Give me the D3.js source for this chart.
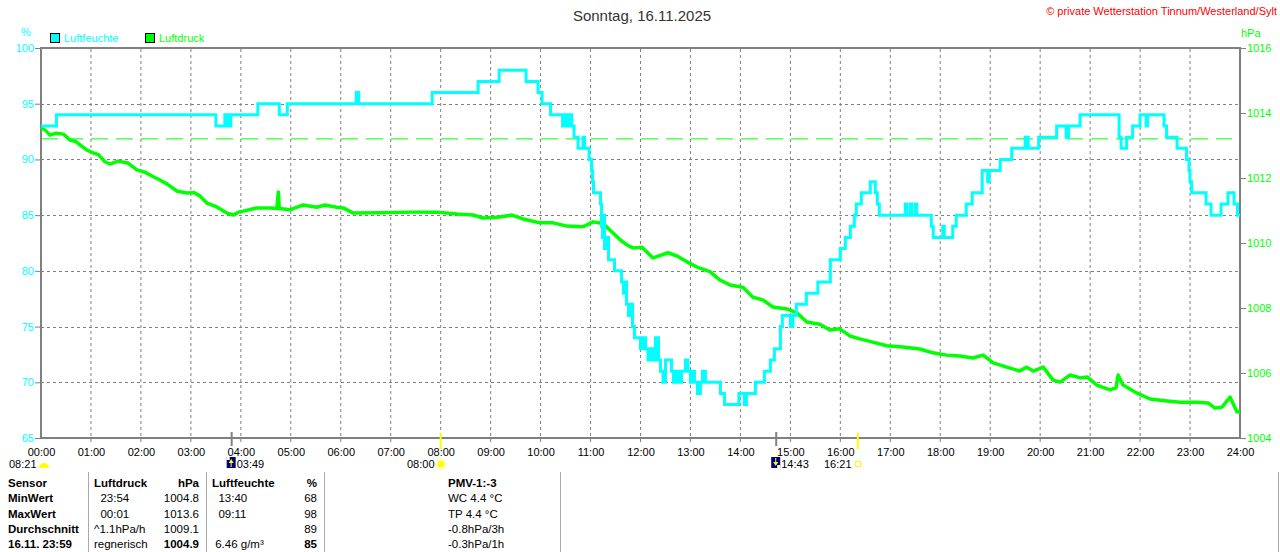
<!DOCTYPE html>
<html>
<head>
<meta charset="utf-8">
<script src="https://cdn.jsdelivr.net/npm/d3@7"></script>
<style>
  body { margin: 0; background: #fff; }
  svg { display: block; font-family: "Liberation Sans", Arial, sans-serif; }
</style>
</head>
<body>
<div id="chart"></div>
<script>
// Luftfeuchte (%) - Stufenwerte, Zeit in Stunden
const humTimes = [0, 0.31, 3.5, 3.68, 3.74, 3.8, 4.34, 4.77, 4.93, 6.31, 6.36, 7.83, 8.75, 9.17, 9.71, 9.95, 10.03, 10.2,
  10.44, 10.48, 10.52, 10.56, 10.62, 10.67, 10.75, 10.85, 10.88, 10.97, 11.02, 11.04, 11.06, 11.2, 11.22, 11.24, 11.26, 11.28,
  11.32, 11.36, 11.48, 11.62, 11.66, 11.68, 11.72, 11.76, 11.8, 11.84, 11.88, 12.0, 12.05, 12.1, 12.15, 12.2, 12.24, 12.3,
  12.36, 12.4, 12.45, 12.5, 12.62, 12.66, 12.72, 12.76, 12.82, 12.9, 12.95, 13.0, 13.04, 13.08, 13.14, 13.2, 13.24, 13.3,
  13.6, 13.68, 13.97, 14.08, 14.12, 14.3, 14.48, 14.6, 14.68, 14.8, 14.84, 15.0, 15.05, 15.12, 15.32, 15.55, 15.8, 16.0,
  16.1, 16.2, 16.28, 16.32, 16.42, 16.6, 16.7, 16.74, 16.78, 17.3, 17.33, 17.4, 17.43, 17.5, 17.53, 17.82, 17.86, 18.05,
  18.08, 18.25, 18.32, 18.52, 18.64, 18.84, 18.95, 18.98, 19.2, 19.43, 19.7, 19.76, 19.97, 20.33, 20.52, 20.57, 20.8,
  21.58, 21.62, 21.73, 21.85, 22.0, 22.12, 22.15, 22.48, 22.53, 22.74, 22.93, 22.98, 23.0, 23.03, 23.32, 23.42, 23.62,
  23.76, 23.88, 23.95, 24];
const humValues = [93, 94, 93, 94, 93, 94, 95, 94, 95, 96, 95, 96, 97, 98, 97, 96, 95, 94,
  93, 94, 93, 94, 93, 92, 91, 92, 91, 90, 89, 88, 87, 86, 84, 83, 85, 82,
  83, 81, 80, 79, 78, 79, 77, 76, 77, 75, 74, 73, 74, 73, 72, 73, 72, 74,
  72, 71, 70, 72, 71, 70, 71, 70, 71, 72, 71, 70, 71, 70, 69, 70, 71, 70,
  69, 68, 69, 68, 69, 70, 71, 72, 73, 75, 76, 75, 76, 77, 78, 79, 81, 82,
  83, 84, 85, 86, 87, 88, 87, 86, 85, 86, 85, 86, 85, 86, 85, 84, 83, 84,
  83, 84, 85, 86, 87, 89, 88, 89, 90, 91, 92, 91, 92, 93, 92, 93, 94,
  92, 91, 92, 93, 94, 93, 94, 93, 92, 91, 90, 89, 88, 87, 86, 85, 86,
  87, 86, 85, 85];

// Luftdruck (hPa)
const presTimes = [0, 0.1, 0.18, 0.3, 0.45, 0.58, 0.7, 0.78, 0.92, 1.05, 1.15, 1.28, 1.38, 1.54, 1.74, 1.92, 2.08, 2.22,
  2.38, 2.52, 2.72, 2.92, 3.06, 3.18, 3.32, 3.52, 3.72, 3.86, 3.95, 4.05, 4.32, 4.58, 4.72, 4.75, 4.77, 4.98, 5.25, 5.52,
  5.68, 5.92, 6.05, 6.25, 6.79, 7.45, 7.93, 8.33, 8.65, 8.85, 9.19, 9.43, 9.65, 9.99, 10.25, 10.53, 10.85, 11.05, 11.25,
  11.43, 11.59, 11.75, 11.85, 12.03, 12.25, 12.55, 12.73, 12.93, 13.13, 13.39, 13.59, 13.79, 14.05, 14.25, 14.45, 14.65,
  14.93, 15.13, 15.33, 15.59, 15.79, 15.99, 16.19, 16.39, 16.65, 16.93, 17.25, 17.59, 17.85, 18.13, 18.39, 18.65, 18.86,
  19.06, 19.33, 19.59, 19.73, 19.86, 20.06, 20.26, 20.4, 20.6, 20.8, 20.94, 21.13, 21.4, 21.52, 21.56, 21.66, 21.94,
  22.2, 22.54, 22.8, 23.14, 23.36, 23.5, 23.64, 23.8, 23.94, 24];
const presValues = [1013.55, 1013.45, 1013.32, 1013.38, 1013.35, 1013.17, 1013.12, 1013.02, 1012.86, 1012.77, 1012.72,
  1012.5, 1012.43, 1012.52, 1012.46, 1012.25, 1012.18, 1012.06, 1011.94, 1011.82, 1011.6, 1011.54, 1011.55, 1011.45,
  1011.23, 1011.11, 1010.92, 1010.86, 1010.95, 1010.98, 1011.08, 1011.08, 1011.06, 1011.57, 1011.06, 1011.02, 1011.17,
  1011.1, 1011.17, 1011.1, 1011.08, 1010.92, 1010.93, 1010.95, 1010.95, 1010.89, 1010.86, 1010.77, 1010.8, 1010.86,
  1010.74, 1010.62, 1010.62, 1010.52, 1010.5, 1010.65, 1010.6, 1010.34, 1010.1, 1009.92, 1009.85, 1009.87, 1009.54,
  1009.7, 1009.6, 1009.42, 1009.26, 1009.12, 1008.86, 1008.71, 1008.64, 1008.33, 1008.25, 1008.03, 1007.97, 1007.85,
  1007.57, 1007.5, 1007.32, 1007.36, 1007.14, 1007.05, 1006.95, 1006.84, 1006.8, 1006.74, 1006.62, 1006.55, 1006.52,
  1006.46, 1006.55, 1006.31, 1006.18, 1006.06, 1006.18, 1006.06, 1006.18, 1005.78, 1005.72, 1005.94, 1005.85, 1005.88,
  1005.63, 1005.48, 1005.55, 1005.94, 1005.63, 1005.38, 1005.2, 1005.14, 1005.1, 1005.1, 1005.08, 1004.92, 1004.95,
  1005.26, 1004.8, 1004.82];

const refPressure = 1013.25;
const humTicks = [65, 70, 75, 80, 85, 90, 95, 100];
const presTicks = [1004, 1006, 1008, 1010, 1012, 1014, 1016];
const hourTicks = d3.range(0, 25);

// Tabelle
const tableRows = [
  ["Sensor", "Luftdruck", "hPa", "Luftfeuchte", "%", "PMV-1:-3"],
  ["MinWert", "  23:54", "1004.8", "  13:40", "68", "WC 4.4 °C"],
  ["MaxWert", "  00:01", "1013.6", "  09:11", "98", "TP 4.4 °C"],
  ["Durchschnitt", "^1.1hPa/h", "1009.1", "", "89", "-0.8hPa/3h"],
  ["16.11. 23:59", "regnerisch", "1004.9", " 6.46 g/m³", "85", "-0.3hPa/1h"]
];

const width = 1280, height = 552;
const cyan = "#00ffff", green = "#00ff00", grid = "#808080";

const svg = d3.select("#chart").append("svg")
  .attr("width", width).attr("height", height);

const x = d3.scaleLinear().domain([0, 24]).range([41, 1240]);
const yH = d3.scaleLinear().domain([65, 100]).range([438, 48]);
const yP = d3.scaleLinear().domain([1004, 1016]).range([438, 48]);

// Titel
svg.append("text").attr("x", 642).attr("y", 21).attr("text-anchor", "middle")
  .attr("font-size", "15px").attr("fill", "#333").text("Sonntag, 16.11.2025");
svg.append("text").attr("x", 1277).attr("y", 15).attr("text-anchor", "end")
  .attr("font-size", "11px").attr("fill", "#ff0000")
  .text("© private Wetterstation Tinnum/Westerland/Sylt");

svg.append("text").attr("x", 26).attr("y", 36).attr("text-anchor", "middle")
  .attr("font-size", "11px").attr("fill", cyan).text("%");
svg.append("text").attr("x", 1241).attr("y", 37)
  .attr("font-size", "11px").attr("fill", green).text("hPa");

// Legende
const legend = [["Luftfeuchte", cyan, 50], ["Luftdruck", green, 145]];
legend.forEach(d => {
  svg.append("rect").attr("x", d[2] + 0.5).attr("y", 33.5).attr("width", 9).attr("height", 9)
    .attr("fill", d[1]).attr("stroke", "#000");
  svg.append("text").attr("x", d[2] + 14).attr("y", 42).attr("font-size", "11px")
    .attr("fill", d[1]).text(d[0]);
});

// Gitter
svg.append("g").selectAll("line").data(hourTicks.slice(1, 24)).join("line")
  .attr("x1", d => x(d)).attr("x2", d => x(d)).attr("y1", 49).attr("y2", 445)
  .attr("stroke", grid).attr("stroke-dasharray", "3,3");
svg.append("g").selectAll("line").data(humTicks.slice(1, 7)).join("line")
  .attr("x1", 41).attr("x2", 1240).attr("y1", d => Math.round(yH(d)) + 0.5).attr("y2", d => Math.round(yH(d)) + 0.5)
  .attr("stroke", grid).attr("stroke-dasharray", "3,3");

// Referenzlinie 1013.25 hPa
svg.append("line").attr("x1", 41).attr("x2", 1232)
  .attr("y1", yP(refPressure) + 1.5).attr("y2", yP(refPressure) + 1.5)
  .attr("stroke", green).attr("stroke-dasharray", "17,8");

// Achsen
const leftAxis = svg.append("g").attr("transform", "translate(40,0)")
  .call(d3.axisLeft(yH).tickValues(humTicks).tickSize(5).tickPadding(1));
leftAxis.select(".domain").remove();
leftAxis.selectAll("line").attr("stroke", grid);
leftAxis.selectAll("text").attr("fill", cyan).attr("font-size", "11px").attr("font-family", null);

const rightAxis = svg.append("g").attr("transform", "translate(1241,0)")
  .call(d3.axisRight(yP).tickValues(presTicks).tickSize(5).tickPadding(1).tickFormat(d3.format("d")));
rightAxis.select(".domain").remove();
rightAxis.selectAll("line").attr("stroke", grid);
rightAxis.selectAll("text").attr("fill", green).attr("font-size", "11px").attr("font-family", null);

const bottomAxis = svg.append("g").attr("transform", "translate(0,438)")
  .call(d3.axisBottom(x).tickValues(hourTicks).tickSize(0).tickPadding(10)
    .tickFormat(d => d3.format("02d")(d) + ":00"));
bottomAxis.select(".domain").remove();
bottomAxis.selectAll("text").attr("fill", "#000").attr("font-size", "11px").attr("font-family", null);

// Rahmen
svg.append("path")
  .attr("d", `M41,438 L41,48 L1240,48 L1240,438 Z`)
  .attr("fill", "none").attr("stroke", grid).attr("stroke-width", 2);

// Linien
const humData = humTimes.map((t, i) => [t, humValues[i]]);
const presData = presTimes.map((t, i) => [t, presValues[i]]);

svg.append("path").datum(presData)
  .attr("d", d3.line().x(d => x(d[0])).y(d => yP(d[1])))
  .attr("fill", "none").attr("stroke", green).attr("stroke-width", 3.5).attr("stroke-linejoin", "round");

svg.append("path").datum(humData)
  .attr("d", d3.line().curve(d3.curveStepAfter).x(d => x(d[0])).y(d => yH(d[1])))
  .attr("fill", "none").attr("stroke", cyan).attr("stroke-width", 3);

// Sonne / Mond Markierungen
const moonTimes = [3 + 49 / 60, 14 + 43 / 60];
const sunTimes = [8, 16 + 21 / 60];
svg.append("g").selectAll("line").data(moonTimes).join("line")
  .attr("x1", d => x(d)).attr("x2", d => x(d)).attr("y1", 432).attr("y2", 446)
  .attr("stroke", grid).attr("stroke-width", 2);
svg.append("g").selectAll("line").data(sunTimes).join("line")
  .attr("x1", d => x(d)).attr("x2", d => x(d)).attr("y1", 433).attr("y2", 449)
  .attr("stroke", "#ffff00").attr("stroke-width", 2);

const evText = (tx, ty, s) => svg.append("text").attr("x", tx).attr("y", ty)
  .attr("font-size", "11px").attr("fill", "#000").text(s);

// Sonnenaufgang links
evText(9, 468, "08:21");
svg.append("path").attr("d", d3.arc()({ innerRadius: 0, outerRadius: 5, startAngle: -Math.PI / 2, endAngle: Math.PI / 2 }))
  .attr("transform", "translate(44,468)").attr("fill", "#ffff00");

// Mondaufgang / -untergang
moonTimes.forEach((t, i) => {
  const mx = x(t) - 5;
  svg.append("rect").attr("x", mx).attr("y", 457).attr("width", 9).attr("height", 11).attr("fill", "#000080");
  svg.append("path")
    .attr("d", i === 0 ? `M${mx + 4.5},459 L${mx + 7},463 L${mx + 2},463 Z M${mx + 4},463 h1 v4 h-1 Z`
                       : `M${mx + 4.5},466 L${mx + 7},462 L${mx + 2},462 Z M${mx + 4},458 h1 v4 h-1 Z`)
    .attr("fill", "#ffff00");
  svg.append("rect").attr("x", mx + (i === 0 ? 0 : 6)).attr("y", i === 0 ? 457 : 465).attr("width", 3).attr("height", 3).attr("fill", "#fff");
  evText(mx + 10, 468, i === 0 ? "03:49" : "14:43");
});

// Sonne
evText(407, 468, "08:00");
svg.append("circle").attr("cx", 441).attr("cy", 464).attr("r", 3.5).attr("fill", "#ffff00");
d3.range(8).forEach(k => {
  const a = k * Math.PI / 4;
  svg.append("line").attr("x1", 441 + Math.cos(a) * 4).attr("y1", 464 + Math.sin(a) * 4)
    .attr("x2", 441 + Math.cos(a) * 6).attr("y2", 464 + Math.sin(a) * 6)
    .attr("stroke", "#ffff00").attr("stroke-width", 1);
});
evText(824, 468, "16:21");
svg.append("rect").attr("x", 855.5).attr("y", 461.5).attr("width", 5).attr("height", 5)
  .attr("fill", "none").attr("stroke", "#ffff00");

// Tabelle
const colX = [8, 94, 199, 212, 317, 448];
const colAnchor = ["start", "start", "end", "start", "end", "start"];
[88, 206, 324, 560, 1278].forEach(sx => {
  svg.append("line").attr("x1", sx + 0.5).attr("x2", sx + 0.5).attr("y1", 472).attr("y2", 552)
    .attr("stroke", "#aaa");
});
tableRows.forEach((row, r) => {
  row.forEach((cell, c) => {
    const bold = r === 0 || c === 0 || (r === 4 && (c === 2 || c === 4));
    svg.append("text")
      .attr("x", colX[c]).attr("y", 487 + r * 15.3)
      .attr("text-anchor", colAnchor[c])
      .attr("font-size", "11.5px")
      .attr("font-weight", bold ? "bold" : "normal")
      .attr("fill", "#000")
      .attr("xml:space", "preserve")
      .style("white-space", "pre")
      .text(cell);
  });
});
</script>
</body>
</html>
